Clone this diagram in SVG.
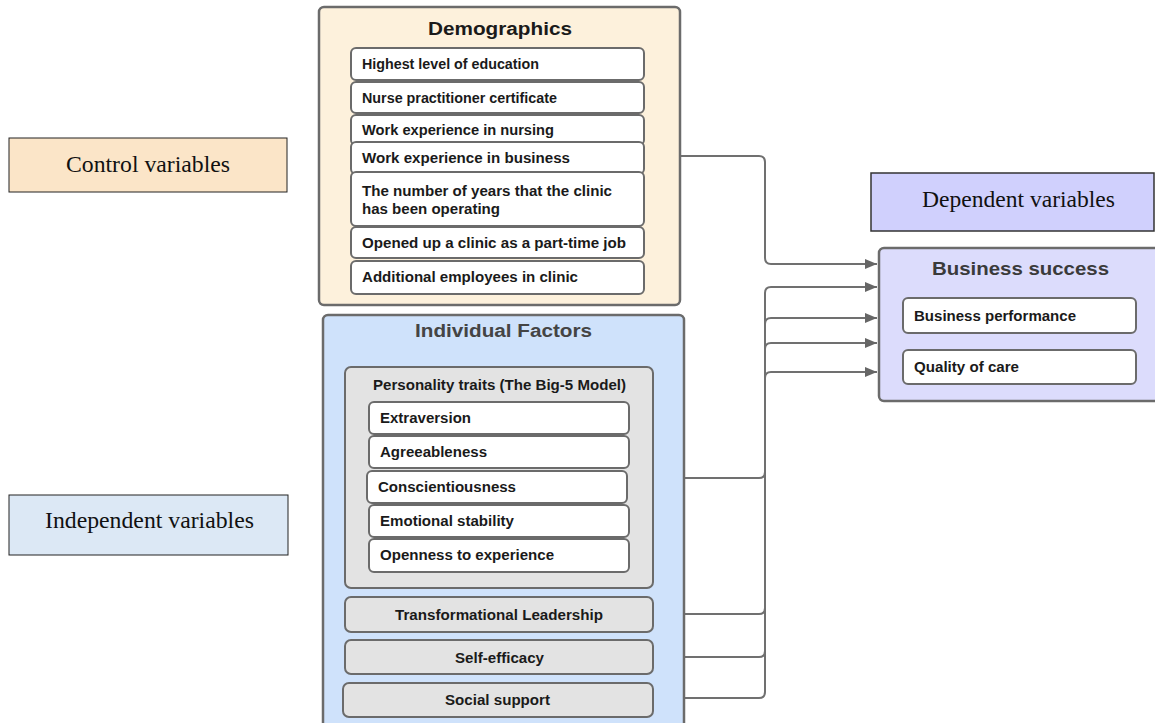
<svg xmlns="http://www.w3.org/2000/svg" width="1155" height="723" viewBox="0 0 1155 723">
<defs>
<style>
.lbl{font-family:"Liberation Serif","Times New Roman",serif;font-size:24px;fill:#111}
.t{font-family:"Liberation Sans",Arial,sans-serif;font-weight:bold;font-size:14px;fill:#1a1a1a}
.title{font-family:"Liberation Sans",Arial,sans-serif;font-weight:bold;font-size:18px}
.item{fill:#fff;stroke:#6b6b6b;stroke-width:2}
.grey{fill:#e3e3e3;stroke:#6b6b6b;stroke-width:2}
.outer{stroke:#6b6b6b;stroke-width:2.5}
.conn{fill:none;stroke:#707070;stroke-width:2}
</style>
<marker id="arr" viewBox="0 0 12 10" refX="12" refY="5" markerWidth="12" markerHeight="10" markerUnits="userSpaceOnUse" orient="auto">
<path d="M0,0 L12,5 L0,10 z" fill="#666"/>
</marker>
</defs>

<g id="control-label">
<rect x="9" y="138" width="278" height="54" fill="#fbe5c8" stroke="#222" stroke-width="1"/>
<text class="lbl" x="66" y="172" textLength="164" lengthAdjust="spacingAndGlyphs">Control variables</text>
</g>
<g id="independent-label">
<rect x="9" y="495" width="279" height="60" fill="#dce8f5" stroke="#222" stroke-width="1"/>
<text class="lbl" x="45" y="528" textLength="209" lengthAdjust="spacingAndGlyphs">Independent variables</text>
</g>
<g id="dependent-label">
<rect x="871" y="173" width="283" height="58" fill="#d0d0fd" stroke="#333" stroke-width="1.5"/>
<text class="lbl" x="922" y="207" textLength="193" lengthAdjust="spacingAndGlyphs">Dependent variables</text>
</g>

<g id="connectors">
<path class="conn" d="M680,156 H759 Q765,156 765,162 V258 Q765,264 771,264 H877" marker-end="url(#arr)"/>
<path class="conn" d="M653,698 H759 Q765,698 765,692 V293 Q765,287 771,287 H877" marker-end="url(#arr)"/>
<path class="conn" d="M653,478 H759 Q765,478 765,472 V324 Q765,318 771,318 H877" marker-end="url(#arr)"/>
<path class="conn" d="M653,614 H759 Q765,614 765,608 V349 Q765,343 771,343 H877" marker-end="url(#arr)"/>
<path class="conn" d="M653,657 H759 Q765,657 765,651 V378 Q765,372 771,372 H877" marker-end="url(#arr)"/>
</g>

<g id="demographics">
<rect class="outer" x="319" y="7" width="361" height="298" rx="5" fill="#fdf1dc"/>
<text class="title" x="428" y="35" textLength="144" lengthAdjust="spacingAndGlyphs" fill="#1a1a1a">Demographics</text>
<g id="d1"><rect class="item" x="351" y="48" width="293" height="32" rx="5"/><text class="t" x="362" y="69" textLength="177" lengthAdjust="spacingAndGlyphs">Highest level of education</text></g>
<g id="d2"><rect class="item" x="351" y="82" width="293" height="31" rx="5"/><text class="t" x="362" y="103" textLength="195" lengthAdjust="spacingAndGlyphs">Nurse practitioner certificate</text></g>
<g id="d3"><rect class="item" x="351" y="115" width="293" height="30" rx="5"/><text class="t" x="362" y="135" textLength="192" lengthAdjust="spacingAndGlyphs">Work experience in nursing</text></g>
<g id="d4"><rect class="item" x="351" y="142" width="293" height="32" rx="5"/><text class="t" x="362" y="163" textLength="208" lengthAdjust="spacingAndGlyphs">Work experience in business</text></g>
<g id="d5"><rect class="item" x="351" y="172" width="293" height="54" rx="5"/><text class="t" x="362" y="196" textLength="250" lengthAdjust="spacingAndGlyphs">The number of years that the clinic</text><text class="t" x="362" y="214" textLength="138" lengthAdjust="spacingAndGlyphs">has been operating</text></g>
<g id="d6"><rect class="item" x="351" y="227" width="293" height="31" rx="5"/><text class="t" x="362" y="248" textLength="264" lengthAdjust="spacingAndGlyphs">Opened up a clinic as a part-time job</text></g>
<g id="d7"><rect class="item" x="351" y="261" width="293" height="33" rx="5"/><text class="t" x="362" y="282" textLength="216" lengthAdjust="spacingAndGlyphs">Additional employees in clinic</text></g>
</g>

<g id="individual-factors">
<rect class="outer" x="323" y="315" width="361" height="420" rx="5" fill="#cfe2fb"/>
<text class="title" x="415" y="337" textLength="177" lengthAdjust="spacingAndGlyphs" fill="#444">Individual Factors</text>
<g id="personality">
<rect class="grey" x="345" y="367" width="308" height="221" rx="6"/>
<text class="t" x="373" y="390" textLength="253" lengthAdjust="spacingAndGlyphs">Personality traits (The Big-5 Model)</text>
<g id="p1"><rect class="item" x="369" y="402" width="260" height="32" rx="5"/><text class="t" x="380" y="423" textLength="91" lengthAdjust="spacingAndGlyphs">Extraversion</text></g>
<g id="p2"><rect class="item" x="369" y="436" width="260" height="32" rx="5"/><text class="t" x="380" y="457" textLength="107" lengthAdjust="spacingAndGlyphs">Agreeableness</text></g>
<g id="p3"><rect class="item" x="367" y="471" width="260" height="32" rx="5"/><text class="t" x="378" y="492" textLength="138" lengthAdjust="spacingAndGlyphs">Conscientiousness</text></g>
<g id="p4"><rect class="item" x="369" y="505" width="260" height="32" rx="5"/><text class="t" x="380" y="526" textLength="134" lengthAdjust="spacingAndGlyphs">Emotional stability</text></g>
<g id="p5"><rect class="item" x="369" y="539" width="260" height="33" rx="5"/><text class="t" x="380" y="560" textLength="174" lengthAdjust="spacingAndGlyphs">Openness to experience</text></g>
</g>
<g id="transformational"><rect class="grey" x="345" y="597" width="308" height="35" rx="6"/><text class="t" x="395" y="620" textLength="208" lengthAdjust="spacingAndGlyphs">Transformational Leadership</text></g>
<g id="self-efficacy"><rect class="grey" x="345" y="640" width="308" height="34" rx="6"/><text class="t" x="455" y="663" textLength="89" lengthAdjust="spacingAndGlyphs">Self-efficacy</text></g>
<g id="social-support"><rect class="grey" x="343" y="683" width="310" height="34" rx="6"/><text class="t" x="445" y="705" textLength="105" lengthAdjust="spacingAndGlyphs">Social support</text></g>
</g>

<g id="business-success">
<rect class="outer" x="879" y="248" width="290" height="153" rx="5" fill="#dcdcfc"/>
<text class="title" x="932" y="275" textLength="177" lengthAdjust="spacingAndGlyphs" fill="#3a3a3a">Business success</text>
<g id="b1"><rect class="item" x="903" y="298" width="233" height="35" rx="5"/><text class="t" x="914" y="321" textLength="162" lengthAdjust="spacingAndGlyphs">Business performance</text></g>
<g id="b2"><rect class="item" x="903" y="350" width="233" height="34" rx="5"/><text class="t" x="914" y="372" textLength="105" lengthAdjust="spacingAndGlyphs">Quality of care</text></g>
</g>
</svg>
